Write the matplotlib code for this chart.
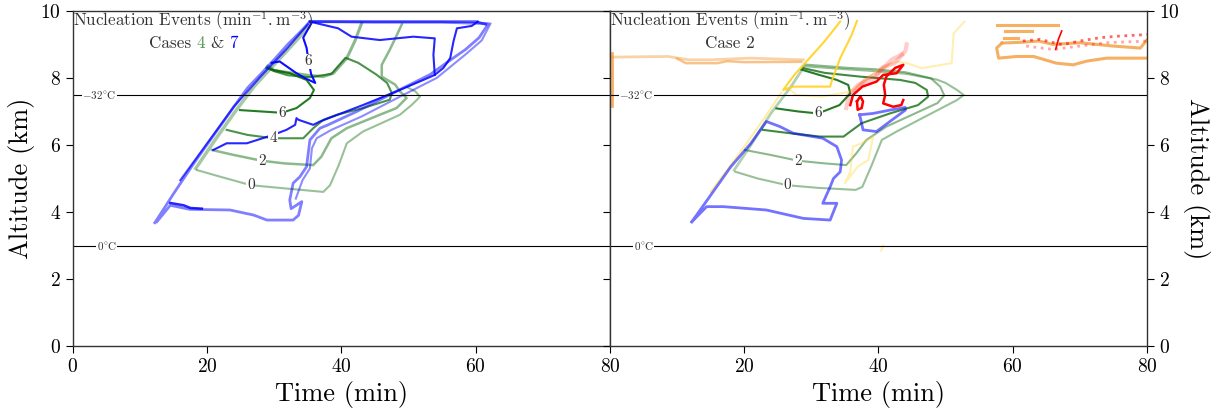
import numpy as np
import matplotlib
matplotlib.use("Agg")
import matplotlib.pyplot as plt
from matplotlib.offsetbox import TextArea, HPacker, VPacker, AnchoredOffsetbox

plt.rcParams['font.family'] = 'cmr10'
plt.rcParams['mathtext.fontset'] = 'cm'
plt.rcParams['axes.formatter.use_mathtext'] = True

# ---- data: (time [min], altitude [km]) ----
# left panel, case 4 (green contours)
c4_lvl0 = [(18.5, 5.25), (22, 5.05), (26.5, 4.8), (31.8, 4.7), (37.3, 4.6), (38.3, 4.8), (39.6, 5.4),
           (40.8, 6.05), (43.2, 6.4), (48.7, 6.9), (50.5, 7.2), (51.7, 7.44), (51.0, 7.6), (49.8, 7.72)]
c4_lvl2 = [(20.7, 5.85), (24, 5.7), (28.1, 5.53), (31.5, 5.45), (35.8, 5.4), (37, 5.65), (38.5, 6.2),
           (40.8, 6.5), (45.7, 6.9), (48.2, 7.1), (49.7, 7.4), (48.7, 7.6), (48, 7.8), (46, 8.04),
           (46, 8.39), (47.2, 8.84), (48.3, 9.3), (49, 9.6)]
c4_upper = [(29.0, 8.35), (30, 8.22), (35.3, 8.07), (37.3, 8.04), (38.8, 8.14), (40.8, 8.59),
            (42, 9.1), (43, 9.63)]
c4_lvl4 = [(22.9, 6.45), (26, 6.3), (29.8, 6.2), (34.3, 6.2), (35.8, 6.5), (37.3, 6.75), (39.3, 6.9),
           (43.2, 7.1), (47.2, 7.35), (47.5, 7.55), (46.8, 7.85), (45.2, 8.1), (42.5, 8.45), (40.6, 8.6),
           (39.5, 8.35), (38.5, 8.12), (35.3, 8.02), (32, 8.08), (30, 8.2), (28.8, 8.3)]
c4_lvl6 = [(24.9, 7.04), (28, 7.0), (31.1, 6.96), (33.3, 7.1), (35.3, 7.4), (35.9, 7.64), (34.8, 7.94),
           (32.3, 8.14), (29.8, 8.24), (29.0, 8.3)]
c4_edge = [(18.3, 5.3), (21, 6.1), (24, 6.95), (27, 7.75), (30, 8.4), (33, 9.05), (35, 9.5)]

# left panel, case 7 (blue contours)
c7_outer = [(12.2, 3.68), (15, 4.55), (18, 5.45), (21, 6.3), (24, 7.15), (26, 7.7), (28, 8.12), (30, 8.55),
            (32, 9.0), (34, 9.4), (35.3, 9.68), (45, 9.66), (55, 9.66), (61.9, 9.62), (60.5, 9.2),
            (58.5, 8.85), (56.7, 8.6), (53.2, 8.1), (48.2, 7.6), (42.3, 7.0), (38, 6.6), (36.8, 6.5),
            (35.3, 6.15), (34.8, 5.35), (33.8, 5.05), (32.8, 4.86), (32.3, 4.36), (32.5, 4.1), (34.1, 4.31),
            (33.6, 3.9), (32.8, 3.76), (28.9, 3.76), (26.9, 3.91), (23.4, 4.06), (17.4, 4.08), (14.5, 4.2),
            (12.5, 3.71)]
c7_outer2 = [(62.2, 9.62), (60.9, 9.12), (58.6, 8.72), (54.2, 8.0), (48.8, 7.45), (43, 6.85), (38.5, 6.45),
             (36.3, 6.2), (35.6, 5.9), (35.3, 5.3), (34.2, 4.95), (33.2, 4.4)]
c7_lvl_a = [(20.9, 5.85), (22.9, 6.05), (25.9, 6.05), (29.8, 6.3), (31.8, 6.45), (33.1, 6.6), (33.3, 6.8),
            (33.6, 6.75), (35.8, 6.6), (36.8, 6.7), (43.2, 7.19), (48.2, 7.6), (52.2, 7.94), (53.9, 8.09),
            (55.2, 8.3), (56.2, 8.59), (56.7, 9.1), (57.2, 9.48), (59.4, 9.55), (60.3, 9.68)]
c7_lvl_b = [(35.3, 9.68), (38, 9.55), (39.5, 9.48), (41.5, 9.23), (45.7, 9.13), (50.7, 9.23), (53.9, 9.18),
            (53.7, 8.69), (53.9, 8.09)]
c7_lvl_c = [(35.6, 9.66), (34.3, 9.2), (34.8, 8.9), (35.1, 8.5), (35.5, 8.1), (36.1, 7.85), (34.5, 8.0),
            (33.3, 8.14), (30.8, 8.49), (29.6, 8.45)]
c7_top = [(35.3, 9.68), (47, 9.68), (60, 9.68), (61.5, 9.6)]
c7_diag = [(16, 4.95), (20, 6.05), (24, 7.15), (28, 8.05), (32, 8.9), (35, 9.6)]
c7_bottom = [(14.5, 4.27), (16.5, 4.2), (17.5, 4.12), (19.2, 4.1)]

# right panel, case 2
c2_lvl0 = [(18.7, 5.2), (22, 5.0), (26.4, 4.8), (31, 4.72), (36.6, 4.66), (37.6, 4.75), (39, 5.4),
           (40.5, 6.15), (42.7, 6.4), (47, 6.85), (51.7, 7.34), (52.7, 7.49), (51.7, 7.64), (50, 7.85),
           (48.7, 7.95), (44.2, 8.12), (39.7, 8.2), (35.8, 8.25), (28.8, 8.35)]
c2_lvl2 = [(20.1, 5.85), (24, 5.7), (28.0, 5.53), (32, 5.45), (35.2, 5.4), (36.7, 5.75), (38.2, 6.15),
           (41.2, 6.55), (45, 6.9), (48.8, 7.25), (49.8, 7.48), (49.2, 7.74), (47.8, 7.99), (44, 8.17),
           (39.5, 8.26), (35.5, 8.3), (29, 8.4)]
c2_lvl4 = [(22.8, 6.45), (26.8, 6.35), (31.3, 6.25), (34.8, 6.25), (35.8, 6.4), (37.5, 6.65), (41.7, 6.94),
           (45.9, 7.19), (47.4, 7.44), (47.2, 7.64), (45.5, 7.85), (43.2, 7.94), (37.2, 8.04), (32, 8.15),
           (28.8, 8.29)]
c2_lvl6 = [(24.8, 7.09), (28, 7.0), (31.0, 6.94), (34.2, 7.19), (35.8, 7.54), (35.5, 7.79), (33.8, 7.94),
           (31, 8.1), (28.5, 8.25)]
c2_edge = [(18.5, 5.25), (21, 6.0), (24, 6.95), (27, 7.75), (28.8, 8.3)]
c2_blue = [(12.2, 3.71), (15, 4.5), (18, 5.35), (21, 6.05), (23.3, 6.7), (25.3, 6.55), (27.3, 6.35),
           (31.7, 6.2), (33.8, 5.95), (34.5, 5.55), (34.3, 5.2), (33.3, 5.0), (32.8, 4.75), (31.7, 4.26),
           (33.8, 4.26), (32.8, 3.76), (28.8, 3.81), (23.3, 4.06), (16.9, 4.16), (14.4, 4.16), (12.2, 3.71)]
c2_blue_loop = [(37.2, 6.9), (37.7, 6.45), (39.7, 6.4), (41.7, 6.7), (44.0, 7.04), (44.0, 7.12), (41.7, 7.04),
                (39.2, 6.94), (37.2, 6.9)]
c2_yellow = [(36.8, 9.7), (36, 9.28), (34.3, 8.59), (33.1, 7.94), (32.8, 7.74), (27.3, 7.74), (25.8, 7.64),
             (27.5, 8.1), (30, 8.65), (32, 9.1), (34.3, 9.68)]
c2_yellow_diag = [(25.5, 7.55), (23, 6.8), (20, 5.95), (17.1, 5.16), (15, 4.6)]
c2_yellow_long = [(52.8, 9.68), (51.2, 9.33), (50.9, 8.44), (46.4, 8.29), (44.3, 8.44), (42.7, 8.49),
                  (40.0, 8.24), (37.4, 7.84), (35.8, 7.59), (31.5, 7.44), (27.8, 7.49), (26.5, 7.7)]
c2_yellow_loop = [(39.2, 6.25), (37.5, 6.05), (36.2, 5.95), (35.8, 5.2), (35.0, 4.86), (36.9, 5.35),
                  (38.5, 5.55), (39.2, 6.25)]
c2_yellow_tick = [(40.4, 2.85), (40.7, 3.0)]
c2_orange_edge = [(0.3, 7.15), (0.3, 8.75)]
c2_orange_a = [(0.3, 8.62), (8.6, 8.64), (11.8, 8.54), (15.0, 8.54), (20.9, 8.59), (28.8, 8.54)]
c2_orange_b = [(10, 8.58), (11.3, 8.44), (16, 8.44), (17.5, 8.5), (20, 8.47), (28.5, 8.48)]
c2_orange_top1 = [(57.6, 9.58), (66.8, 9.58)]
c2_orange_top2 = [(58.9, 9.4), (62.8, 9.4)]
c2_orange_top3 = [(58.7, 9.2), (60.8, 9.2)]
c2_orange_low = [(58.4, 9.04), (57.6, 8.89), (57.9, 8.59), (60.6, 8.64), (63.1, 8.64), (66.5, 8.44),
                 (69.0, 8.39), (71.0, 8.5), (74.0, 8.59), (80, 8.59)]
c2_orange_up = [(58.4, 9.04), (61, 9.06), (63.9, 9.1), (66, 9.0), (70, 9.05), (75, 8.95), (79, 8.89),
                (80, 9.13)]
c2_red_dot1 = [(61.5, 9.1), (64, 9.15), (67.4, 8.99), (70, 9.1), (73, 9.2), (76, 9.25), (78.9, 9.28), (80, 9.3)]
c2_red_dot2 = [(62, 8.95), (66, 8.85), (70, 8.95), (74, 9.05), (80, 9.1)]
c2_red_spike = [(66.4, 8.85), (66.8, 9.15), (67.3, 9.4)]
c2_red = [(35.8, 7.19), (36.2, 7.49), (37.6, 7.74), (39.7, 7.89), (40.7, 8.09), (42.7, 8.14), (43.7, 8.39),
          (42.5, 8.3), (41.2, 8.05), (40.8, 7.8), (41.0, 7.49), (40.7, 7.24), (42.2, 7.14), (43.4, 7.19),
          (43.7, 7.34)]
c2_red_small = [(36.8, 7.3), (37.3, 7.45), (37.7, 7.3), (37.5, 7.1), (36.9, 7.05), (36.8, 7.3)]
c2_red_halo1 = [(35.2, 7.1), (35.6, 7.5), (37, 7.8), (39.5, 8.0), (40.5, 8.3), (42.5, 8.45), (44, 8.8),
                (44.2, 9.0)]
c2_red_halo2 = [(36.5, 7.6), (38, 7.95), (40, 8.15), (42, 8.55), (43.5, 8.7)]

left_labels = [("0", 26.5, 4.8), ("2", 28.1, 5.53), ("4", 29.8, 6.2), ("6", 31.1, 6.96), ("6", 35.0, 8.5)]
right_labels = [("0", 26.4, 4.8), ("2", 28.0, 5.53), ("6", 31.0, 6.95)]
iso_alt = [7.5, 3.0]
iso_txt = [r"$-32^{\circ}$C", r"$0^{\circ}$C"]

GREEN = "darkgreen"
BLUE = "blue"


def line(ax, pts, **kw):
    a = np.array(pts)
    ax.plot(a[:, 0], a[:, 1], **kw)


fig, (ax1, ax2) = plt.subplots(1, 2, figsize=(12.22, 4.18), dpi=100, sharey=True)
fig.subplots_adjust(left=0.0597, right=0.9386, bottom=0.172, top=0.974, wspace=0)

# left panel
line(ax1, c4_edge, color=GREEN, alpha=0.35, lw=2.5)
line(ax1, c4_lvl0, color=GREEN, alpha=0.4, lw=1.5)
line(ax1, c4_lvl2, color=GREEN, alpha=0.45, lw=1.8)
line(ax1, c4_upper, color=GREEN, alpha=0.45, lw=2.2)
line(ax1, c4_lvl4, color=GREEN, alpha=0.7, lw=1.5)
line(ax1, c4_lvl6, color=GREEN, alpha=0.85, lw=1.5)
line(ax1, c7_outer, color=BLUE, alpha=0.5, lw=2)
line(ax1, c7_outer2, color=BLUE, alpha=0.45, lw=1.5)
line(ax1, c7_diag, color=BLUE, alpha=0.7, lw=1.5)
line(ax1, c7_top, color=BLUE, alpha=0.6, lw=2)
line(ax1, c7_lvl_a, color=BLUE, alpha=0.85, lw=1.5)
line(ax1, c7_lvl_b, color=BLUE, alpha=0.85, lw=1.5)
line(ax1, c7_lvl_c, color=BLUE, alpha=0.95, lw=1.5)
line(ax1, c7_bottom, color=BLUE, alpha=0.85, lw=1.8)

# right panel
line(ax2, c2_orange_edge, color="#f39c3c", alpha=0.8, lw=2)
line(ax2, c2_orange_a, color="#f39c3c", alpha=0.45, lw=2)
line(ax2, c2_orange_b, color="#f39c3c", alpha=0.6, lw=1.8)
for seg in [c2_orange_top1, c2_orange_top2, c2_orange_top3, c2_orange_low, c2_orange_up]:
    line(ax2, seg, color="#f39c3c", alpha=0.8, lw=2.2)
line(ax2, c2_red_dot1, color="red", alpha=0.6, lw=2, ls=":")
line(ax2, c2_red_dot2, color="red", alpha=0.35, lw=2, ls=":")
line(ax2, c2_red_spike, color="red", lw=1.2)
line(ax2, c2_edge, color=GREEN, alpha=0.3, lw=2)
line(ax2, c2_lvl0, color=GREEN, alpha=0.4, lw=1.5)
line(ax2, c2_lvl2, color=GREEN, alpha=0.45, lw=1.5)
line(ax2, c2_lvl4, color=GREEN, alpha=0.75, lw=1.5)
line(ax2, c2_lvl6, color=GREEN, alpha=0.85, lw=1.5)
line(ax2, c2_yellow_diag, color="#ffd21f", alpha=0.4, lw=1.5)
line(ax2, c2_yellow_long, color="#ffd21f", alpha=0.35, lw=1.5)
line(ax2, c2_yellow_loop, color="#ffd21f", alpha=0.35, lw=1.5)
line(ax2, c2_yellow_tick, color="#ffd21f", alpha=0.35, lw=1.5)
line(ax2, c2_yellow, color="#ffd21f", alpha=0.9, lw=1.5)
line(ax2, c2_red_halo1, color="red", alpha=0.2, lw=3)
line(ax2, c2_red_halo2, color="red", alpha=0.2, lw=3)
line(ax2, c2_red, color="red", lw=1.8)
line(ax2, c2_red_small, color="red", lw=1.8)
line(ax2, c2_blue, color=BLUE, alpha=0.55, lw=2)
line(ax2, c2_blue_loop, color=BLUE, alpha=0.55, lw=2)

for ax, labels in [(ax1, left_labels), (ax2, right_labels)]:
    for txt, t, z in labels:
        ax.text(t, z, txt, fontsize=11, color="0.2", ha="center", va="center",
                bbox=dict(facecolor="white", edgecolor="none", pad=0.5))
    for alt, txt in zip(iso_alt, iso_txt):
        ax.axhline(alt, color="black", lw=0.8)
        ax.text(6.5, alt, txt, fontsize=8, color="0.2", ha="right", va="center",
                bbox=dict(facecolor="white", edgecolor="none", pad=0.3))
    ax.set_xlim(0, 80)
    ax.set_ylim(0, 10)
    ax.set_xlabel("Time (min)", fontsize=19)
    ax.tick_params(labelsize=14, length=5, direction="out")
    for sp in ax.spines.values():
        sp.set_linewidth(1.0)
        sp.set_color("0.2")


def header(ax, parts):
    line1 = TextArea(r"Nucleation Events ($\mathrm{min}^{-1}.\mathrm{m}^{-3}$)",
                     textprops=dict(fontsize=12.3, color="0.2"))
    line2 = HPacker(children=[TextArea(s, textprops=dict(fontsize=12.3, color=c)) for s, c in parts],
                    align="baseline", pad=0, sep=4)
    box = VPacker(children=[line1, line2], align="center", pad=0, sep=2)
    anchored = AnchoredOffsetbox(loc="upper left", child=box, bbox_to_anchor=(0, 1.005),
                                 bbox_transform=ax.transAxes, frameon=False, borderpad=0, pad=0)
    ax.add_artist(anchored)


header(ax1, [("Cases", "0.2"), ("4", "#4f9a4f"), ("&", "0.2"), ("7", "blue")])
header(ax2, [("Case 2", "0.2")])

ax1.set_xticks([0, 20, 40, 60, 80])
ax2.set_xticks([20, 40, 60, 80])
ax1.set_yticks(range(0, 11, 2))
ax1.set_ylabel("Altitude (km)", fontsize=19)
ax2.yaxis.set_label_position("right")
ax2.set_ylabel("Altitude (km)", fontsize=19, rotation=270, labelpad=22)
ax2.tick_params(axis="y", left=True, right=True, labelleft=False, labelright=True)

fig.savefig("out.png", dpi=100)
